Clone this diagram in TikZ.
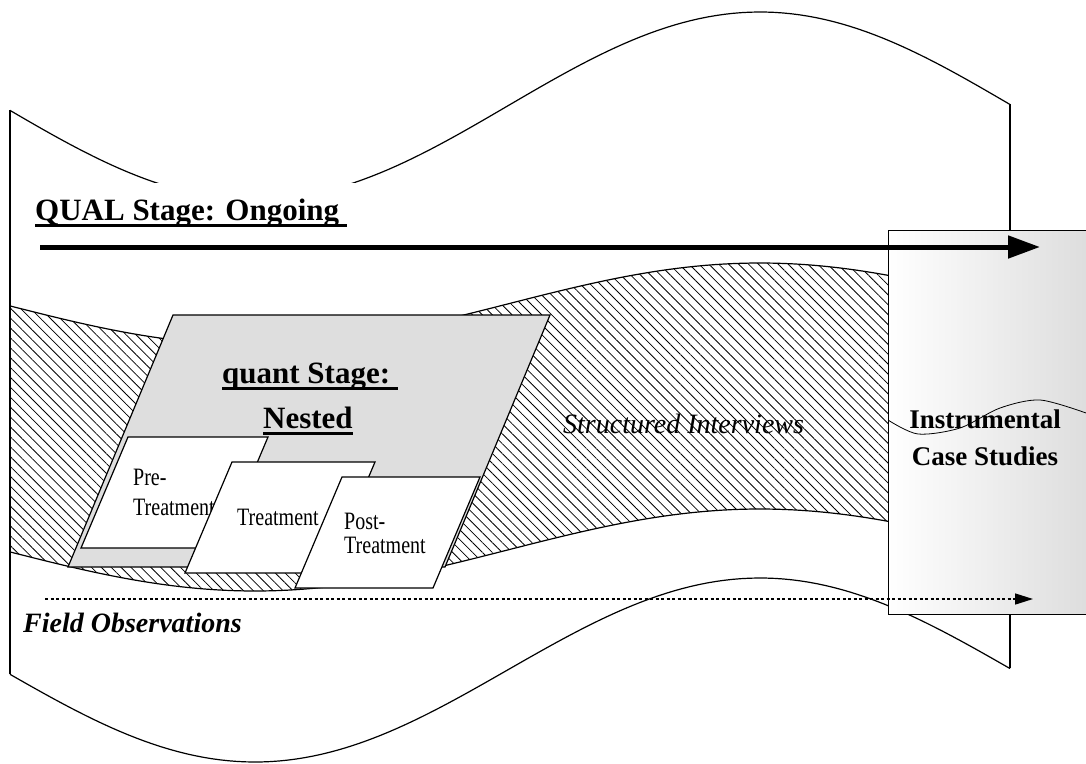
\documentclass[tikz,border=0pt]{standalone}
\usepackage{fontspec}
\setmainfont{Liberation Serif}
\newfontfamily\narrowrm[FakeStretch=0.8]{Liberation Serif}
\usepackage{tikz}
\usetikzlibrary{arrows.meta,patterns.meta}
\definecolor{ink}{HTML}{000000}
\definecolor{quantbg}{HTML}{DEDEDE}
\definecolor{casebg}{HTML}{DCDCDC}
\newcommand\undl[1]{\setbox0\hbox{#1}\rlap{\rule[-7pt]{\wd0}{3pt}}\box0}
\tikzset{
  outline/.style={draw=ink,line width=1.2pt},
  hatch/.style={pattern={Lines[angle=-45,distance=7pt,line width=0.8pt]}},
  stagebox/.style={outline,fill=quantbg},
  subbox/.style={outline,fill=white},
  bigtxt/.style={font=\fontsize{31}{37}\selectfont\bfseries,anchor=base west,
                 inner sep=0pt},
  smalltxt/.style={font=\fontsize{25}{30}\narrowrm,anchor=base west,
                   inner sep=0pt,align=left},
  qualarrow/.style={-{Triangle[length=32pt,width=22pt]},line width=5pt,ink},
  fieldarrow/.style={-{Triangle[length=18pt,width=11pt]},line width=1.5pt,ink,
                     dash pattern=on 3pt off 2.5pt},
}

\begin{document}
\begin{tikzpicture}[x=1pt,y=-1pt]
  \useasboundingbox (0,0) rectangle (1086,763);
  % outer flag
  \draw[outline] plot[domain=10:1010,samples=120] (\x,{106+94*cos(0.3564*(\x-255))});
  \draw[outline] plot[domain=10:1010,samples=120] (\x,{670+92*cos(0.3564*(\x-255))});
  \draw[outline] (10,110) -- (10,674);
  \draw[outline] (1010,104) -- (1010,668);
  \node[bigtxt,fill=white,inner xsep=18pt,inner ysep=15pt]
    (qual) at (17,220) {\undl{QUAL Stage: Ongoing\ }};
  % band of interviews
  \fill[hatch] plot[domain=10:892,samples=100] (\x,{304+41*cos(0.3564*(\x-255))})
    -- plot[domain=892:10,samples=100] (\x,{550+41*cos(0.3564*(\x-255))}) -- cycle;
  \draw[outline] plot[domain=10:892,samples=100] (\x,{304+41*cos(0.3564*(\x-255))});
  \draw[outline] plot[domain=10:892,samples=100] (\x,{550+41*cos(0.3564*(\x-255))});
  % quant stage
  \draw[stagebox] (173,315) -- (550,315) -- (445,567) -- (68,567) -- cycle;
  \node[bigtxt] (quant) at (222,383) {\undl{quant Stage:\ }};
  \node[bigtxt] (nested) at (263,428) {\undl{Nested}};
  \draw[subbox] (128,437) -- ++(140,0) -- ++(-47,111) -- ++(-140,0) -- cycle;
  \node[smalltxt] (pre) at (133,515) {Pre-\\Treatment};
  \draw[subbox] (232,462) -- ++(143,0) -- ++(-47,111) -- ++(-143,0) -- cycle;
  \node[smalltxt] (trt) at (237,525) {Treatment};
  \draw[subbox] (342,477) -- ++(138,0) -- ++(-47,111) -- ++(-138,0) -- cycle;
  \node[smalltxt] (post) at (344,553) {Post-\\[-6pt]Treatment};
  \node[font=\fontsize{28}{34}\selectfont\itshape,anchor=base west,inner sep=0pt]
    (interviews) at (563,433) {Structured Interviews};
  \node[font=\fontsize{28}{34}\selectfont\bfseries\itshape,anchor=base west,inner sep=0pt]
    (fieldobs) at (23,632) {Field Observations};
  % case studies
  \shade[left color=white,right color=casebg,draw=ink,line width=1pt]
    (888,230) rectangle (1096,614);
  \draw[ink,line width=0.8pt] plot[smooth] coordinates
    {(888,420) (918,434) (960,428) (1000,408) (1040,400) (1086,413)};
  \node[font=\fontsize{27}{37}\selectfont\bfseries,align=center]
    (cases) at (985,438) {Instrumental\\Case Studies};
  % arrows
  \coordinate (qualstart) at (40,247);
  \coordinate (qualend) at (1040,247);
  \draw[qualarrow] (qualstart) -- (qualend);
  \coordinate (fieldstart) at (45,599);
  \coordinate (fieldend) at (1033,599);
  \draw[fieldarrow] (fieldstart) -- (fieldend);
\end{tikzpicture}
\end{document}
